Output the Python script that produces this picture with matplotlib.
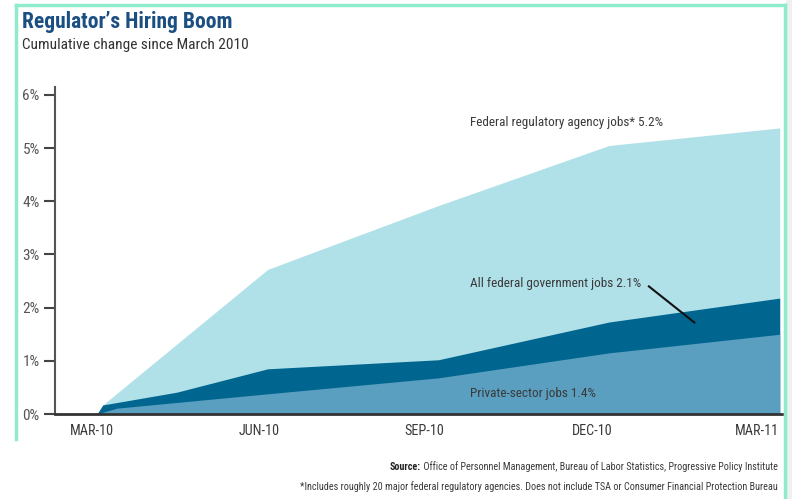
import matplotlib
matplotlib.use("Agg")
import matplotlib.pyplot as plt
from matplotlib.patches import Rectangle
from matplotlib.lines import Line2D

plt.rcParams["font.family"] = ["Roboto Condensed", "Liberation Sans Narrow", "Liberation Sans", "DejaVu Sans"]

# months since March 2010
reg_months = [0, 0.1, 3, 6, 9, 12]
reg_vals = [0, 0.17, 2.72, 3.92, 5.05, 5.38]

fed_months = [0, 0.1, 1.4, 3, 6, 9, 12]
fed_vals = [0, 0.17, 0.41, 0.85, 1.02, 1.73, 2.18]

priv_months = [0, 0.35, 3, 6, 9, 12]
priv_vals = [0, 0.11, 0.38, 0.68, 1.15, 1.50]

tick_labels = ["MAR-10", "JUN-10", "SEP-10", "DEC-10", "MAR-11"]
tick_pos = [-0.1, 2.85, 5.75, 8.7, 11.6]
y_ticks = [0, 1, 2, 3, 4, 5, 6]

C_REG = "#b0e0e8"
C_FED = "#00668f"
C_PRIV = "#5a9ec0"
TXT = "#3a3a3a"

fig = plt.figure(figsize=(7.92, 4.99), dpi=100)
fig.patch.set_facecolor("white")

# light grey strip at right edge + mint frame
fig.add_artist(Rectangle((786 / 792, 0), 6 / 792, 1, transform=fig.transFigure,
                         facecolor="#eef0f2", edgecolor="none", zorder=0))
frame_c = "#8eeccb"
fig.add_artist(Line2D([16 / 792, 16 / 792], [0.12, 1 - 5 / 499], transform=fig.transFigure,
                      color=frame_c, lw=2.5))
fig.add_artist(Line2D([16 / 792, 785 / 792], [1 - 5 / 499, 1 - 5 / 499], transform=fig.transFigure,
                      color=frame_c, lw=2.5))
fig.add_artist(Line2D([785 / 792, 785 / 792], [0.0, 1 - 5 / 499], transform=fig.transFigure,
                      color=frame_c, lw=2.5))

ax = fig.add_axes([55 / 792, 1 - 414 / 499, 727 / 792, (414 - 87) / 499])
ax.set_facecolor("none")

ax.fill_between(reg_months, reg_vals, color=C_REG, lw=0, zorder=1)
ax.fill_between(fed_months, fed_vals, color=C_FED, lw=0, zorder=2)
ax.fill_between(priv_months, priv_vals, color=C_PRIV, lw=0, zorder=3)

ax.set_xlim(-0.74, 12.04)
ax.set_ylim(0, 6.15)

for s in ["top", "right"]:
    ax.spines[s].set_visible(False)
ax.spines["left"].set_color("#555555")
ax.spines["left"].set_linewidth(1.5)
ax.spines["bottom"].set_color("#333333")
ax.spines["bottom"].set_linewidth(2)
ax.spines["bottom"].set_zorder(5)

ax.set_yticks(y_ticks)
ax.set_yticklabels([f"{v}%" for v in y_ticks], fontsize=11, color="#555555")
ax.tick_params(axis="y", length=8, width=1.5, color="#444444", pad=3)

ax.set_xticks(tick_pos)
ax.set_xticklabels(tick_labels, fontsize=10.2, color=TXT)
ax.tick_params(axis="x", length=0, pad=7)

lab_x = 6.56
ax.text(lab_x, 5.48, "Federal regulatory agency jobs* 5.2%", fontsize=9.5, color=TXT,
        va="center", zorder=6)
ax.text(lab_x, 2.45, "All federal government jobs 2.1%", fontsize=9.5, color=TXT,
        va="center", zorder=6)
ax.text(lab_x, 0.39, "Private-sector jobs 1.4%", fontsize=9.5, color=TXT,
        va="center", zorder=6)
ax.plot([9.7, 10.5], [2.4, 1.72], color="#111111", lw=1.5, zorder=6)

fig.text(22 / 792, 1 - 22 / 499, "Regulator\u2019s Hiring Boom", fontsize=15.5, fontweight="bold",
         color="#1b4f82", va="center")
fig.text(22 / 792, 1 - 45 / 499, "Cumulative change since March 2010", fontsize=11.1,
         color="#333333", va="center")

src = fig.text(778 / 792, 1 - 467 / 499,
               " Office of Personnel Management, Bureau of Labor Statistics, Progressive Policy Institute",
               fontsize=7.3, color=TXT, ha="right", va="center")
fig.canvas.draw()
bb = src.get_window_extent()
fig.text(bb.x0 / 792, 1 - 467 / 499, "Source:", fontsize=7.3, fontweight="bold", color="#222222",
         ha="right", va="center")
fig.text(778 / 792, 1 - 487 / 499,
         "*Includes roughly 20 major federal regulatory agencies. Does not include TSA or Consumer Financial Protection Bureau",
         fontsize=7.3, color=TXT, ha="right", va="center")

fig.savefig("out.png", dpi=100, facecolor="white")
